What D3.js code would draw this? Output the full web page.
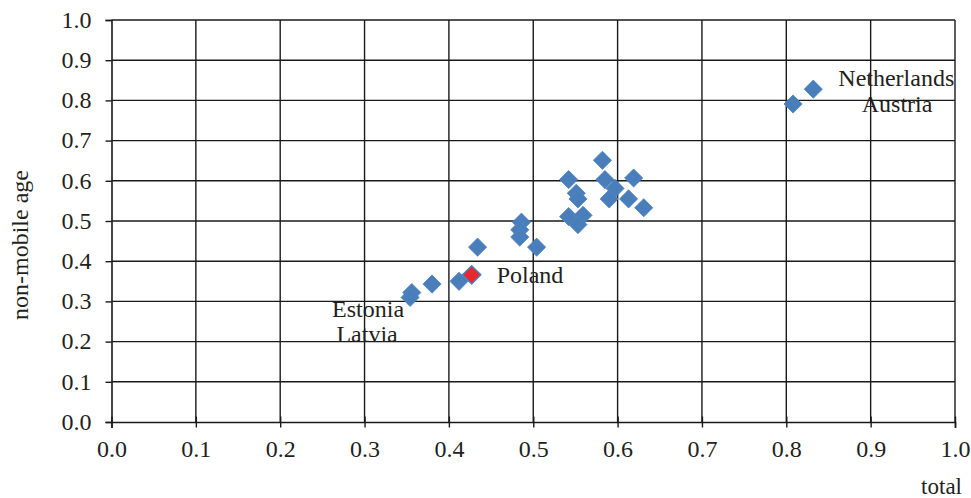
<!DOCTYPE html>
<html>
<head>
<meta charset="utf-8">
<script src="https://cdn.jsdelivr.net/npm/d3@7"></script>
<style>
  html, body { margin: 0; padding: 0; background: #fff; }
  svg { display: block; }
  text { font-family: "Liberation Serif", "Times New Roman", serif; fill: #231f20; }
</style>
</head>
<body>
<svg id="chart" width="971" height="498"></svg>
<script>
// ---- data ----
const totalValues = [0.808, 0.832, 0.582, 0.542, 0.585, 0.619, 0.551, 0.553, 0.597, 0.590,
                     0.613, 0.631, 0.542, 0.559, 0.553, 0.486, 0.484, 0.484, 0.504, 0.434,
                     0.412, 0.380, 0.356, 0.354];
const nonMobileValues = [0.791, 0.828, 0.651, 0.603, 0.603, 0.607, 0.569, 0.555, 0.581, 0.555,
                         0.555, 0.533, 0.511, 0.514, 0.491, 0.497, 0.478, 0.460, 0.435, 0.435,
                         0.350, 0.343, 0.322, 0.310];
const highlightTotal = [0.427];
const highlightNonMobile = [0.366];
const xTicks = [0.0, 0.1, 0.2, 0.3, 0.4, 0.5, 0.6, 0.7, 0.8, 0.9, 1.0];
const yTicks = [0.0, 0.1, 0.2, 0.3, 0.4, 0.5, 0.6, 0.7, 0.8, 0.9, 1.0];
const labelNames = ["Netherlands", "Austria", "Poland", "Estonia", "Latvia"];
const xTitle = "total";
const yTitle = "non-mobile age";

// ---- layout ----
const svg = d3.select("#chart");
const mLeft = 111.5, mRight = 955, mTop = 20, mBottom = 422;
const x = d3.scaleLinear().domain([0, 1]).range([mLeft, mRight]);
const y = d3.scaleLinear().domain([0, 1]).range([mBottom, mTop]);

// grid
const grid = svg.append("g").attr("stroke", "#1a1a1a").attr("stroke-width", 1.4);
grid.selectAll("line.v").data(xTicks.slice(1)).join("line").attr("class", "v")
  .attr("x1", d => x(d)).attr("x2", d => x(d))
  .attr("y1", mTop).attr("y2", mBottom);
grid.selectAll("line.h").data(yTicks.slice(1)).join("line").attr("class", "h")
  .attr("x1", mLeft).attr("x2", mRight)
  .attr("y1", d => y(d)).attr("y2", d => y(d));

// axes
const xAxis = d3.axisBottom(x).tickValues(xTicks).tickFormat(d3.format(".1f")).tickSize(6).tickPadding(6);
const yAxis = d3.axisLeft(y).tickValues(yTicks).tickFormat(d3.format(".1f")).tickSize(6).tickPadding(14);
const gx = svg.append("g").attr("transform", `translate(0,${mBottom})`).call(xAxis);
const gy = svg.append("g").attr("transform", `translate(${mLeft},0)`).call(yAxis);
[gx, gy].forEach(g => {
  g.select(".domain").attr("stroke", "#1a1a1a").attr("stroke-width", 1.6);
  g.selectAll(".tick line").attr("stroke", "#1a1a1a").attr("stroke-width", 1.4);
  g.selectAll(".tick text").attr("font-size", 24).attr("fill", "#231f20")
    .attr("font-family", "Liberation Serif, Times New Roman, serif");
});
gx.selectAll(".tick line").attr("y1", -5.5).attr("y2", 5.5);
gx.selectAll(".tick text").attr("y", 34.5).attr("dy", 0);
gy.selectAll(".tick text").attr("dy", "0.3em");

// points
const pts = totalValues.map((v, i) => ({ x: v, y: nonMobileValues[i] }));
const hl = highlightTotal.map((v, i) => ({ x: v, y: highlightNonMobile[i] }));
const sym = d3.symbol(d3.symbolSquare, 165);
svg.append("g").selectAll("path").data(pts).join("path")
  .attr("d", sym)
  .attr("transform", d => `translate(${x(d.x)},${y(d.y)}) rotate(45)`)
  .attr("fill", "#4a7ebb").attr("stroke", "#4f85c2").attr("stroke-width", 0.8);
svg.append("g").selectAll("path").data(hl).join("path")
  .attr("d", sym)
  .attr("transform", d => `translate(${x(d.x)},${y(d.y)}) rotate(45)`)
  .attr("fill", "#e8282c").attr("stroke", "#4a7ebb").attr("stroke-width", 1.5);

// annotations (offsets relative to the associated marker)
const ann = [
  { text: labelNames[0], px: x(totalValues[1]) + 83, py: y(nonMobileValues[1]) - 3, anchor: "middle" },
  { text: labelNames[1], px: x(totalValues[0]) + 104, py: y(nonMobileValues[0]) + 8, anchor: "middle" },
  { text: labelNames[2], px: x(highlightTotal[0]) + 25, py: y(highlightNonMobile[0]) + 8, anchor: "start" },
  { text: labelNames[3], px: x(totalValues[23]) - 42, py: y(nonMobileValues[23]) + 20, anchor: "middle" },
  { text: labelNames[4], px: x(totalValues[23]) - 43, py: y(nonMobileValues[23]) + 45, anchor: "middle" }
];
svg.append("g").selectAll("text").data(ann).join("text")
  .attr("x", d => d.px).attr("y", d => d.py)
  .attr("text-anchor", d => d.anchor)
  .attr("font-size", 24)
  .text(d => d.text);

// axis titles
svg.append("text").attr("x", 962).attr("y", 494).attr("text-anchor", "end")
  .attr("font-size", 23).text(xTitle);
svg.append("text").attr("transform", "translate(28,245) rotate(-90)")
  .attr("text-anchor", "middle").attr("font-size", 24).text(yTitle);
</script>
</body>
</html>
